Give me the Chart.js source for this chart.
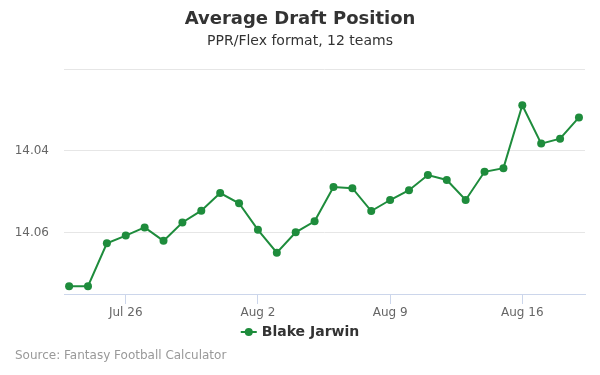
<!DOCTYPE html>
<html>
<head>
    <meta charset="utf-8">
    <script src="https://cdn.jsdelivr.net/npm/chart.js@4.4.1/dist/chart.umd.min.js"></script>
    <style>
        html, body { margin: 0; padding: 0; background: #fff; }
        #wrap { width: 600px; height: 375px; }
    </style>
</head>
<body>
    <div id="wrap"><canvas id="adp" width="600" height="375"></canvas></div>

    <script>
        const days = ['Jul 23', 'Jul 24', 'Jul 25', 'Jul 26', 'Jul 27', 'Jul 28', 'Jul 29', 'Jul 30', 'Jul 31',
            'Aug 1', 'Aug 2', 'Aug 3', 'Aug 4', 'Aug 5', 'Aug 6', 'Aug 7', 'Aug 8', 'Aug 9', 'Aug 10',
            'Aug 11', 'Aug 12', 'Aug 13', 'Aug 14', 'Aug 15', 'Aug 16', 'Aug 17', 'Aug 18', 'Aug 19'];
        const adp = [14.0731, 14.0731, 14.0626, 14.0607, 14.0587, 14.0620, 14.0575, 14.0546, 14.0503,
            14.0528, 14.0593, 14.0649, 14.0599, 14.0572, 14.0488, 14.0491, 14.0547, 14.0520, 14.0496,
            14.0459, 14.0471, 14.0520, 14.0451, 14.0442, 14.0288, 14.0382, 14.0370, 14.0318];
        const playerName = 'Blake Jarwin';

        const xTickPos = [3, 10, 17, 24];
        const xTickLabels = ['Jul 26', 'Aug 2', 'Aug 9', 'Aug 16'];
        const yTicks = [14.02, 14.04, 14.06];
        const yTickLabels = ['', '14.04', '14.06'];

        const green = '#1e8c3c';
        const FONT = '"DejaVu Sans", sans-serif';

        // title, subtitle, legend and credit drawn by hand, highcharts style
        const decorations = {
            id: 'decorations',
            afterDraw(chart) {
                const ctx = chart.ctx;
                const area = chart.chartArea;
                ctx.save();
                ctx.textBaseline = 'middle';
                ctx.textAlign = 'center';
                ctx.fillStyle = '#333333';
                ctx.font = 'bold 18px ' + FONT;
                ctx.fillText('Average Draft Position', 300, 19);
                ctx.font = '14px ' + FONT;
                ctx.fillText('PPR/Flex format, 12 teams', 300, 41);

                // legend
                ctx.font = 'bold 14px ' + FONT;
                const label = chart.data.datasets[0].label;
                const tw = ctx.measureText(label).width;
                const total = 16 + 5 + tw;
                const lx = 300 - total / 2;
                const ly = area.bottom + 38;
                ctx.strokeStyle = green;
                ctx.lineWidth = 2;
                ctx.beginPath();
                ctx.moveTo(lx, ly);
                ctx.lineTo(lx + 16, ly);
                ctx.stroke();
                ctx.fillStyle = green;
                ctx.beginPath();
                ctx.arc(lx + 8, ly, 4, 0, Math.PI * 2);
                ctx.fill();
                ctx.fillStyle = '#333333';
                ctx.textAlign = 'left';
                ctx.fillText(label, lx + 21, ly);

                // credit
                ctx.font = '12px ' + FONT;
                ctx.fillStyle = '#999999';
                ctx.fillText('Source: Fantasy Football Calculator', 15, 356);
                ctx.restore();
            }
        };

        new Chart(document.getElementById('adp'), {
            type: 'line',
            data: {
                datasets: [{
                    label: playerName,
                    data: days.map((d, i) => ({ x: i, y: adp[i] })),
                    borderColor: green,
                    backgroundColor: green,
                    borderWidth: 2,
                    pointRadius: 4,
                    pointHoverRadius: 4,
                    pointBorderWidth: 0,
                    tension: 0
                }]
            },
            options: {
                responsive: false,
                animation: false,
                layout: { padding: { top: 68, right: 15, bottom: 55, left: 0 } },
                scales: {
                    x: {
                        type: 'linear',
                        min: -0.27,
                        max: 27.32,
                        afterBuildTicks: (scale) => { scale.ticks = xTickPos.map(v => ({ value: v })); },
                        afterFit: (scale) => { scale.height = 26; },
                        grid: {
                            drawOnChartArea: false,
                            drawTicks: true,
                            tickLength: 10,
                            tickColor: '#ccd6eb'
                        },
                        border: { color: '#ccd6eb', width: 1 },
                        ticks: {
                            color: '#666666',
                            font: { family: FONT, size: 12 },
                            padding: 2,
                            maxRotation: 0,
                            autoSkip: false,
                            callback: (v) => xTickLabels[xTickPos.indexOf(v)]
                        }
                    },
                    y: {
                        reverse: true,
                        min: 14.0197,
                        max: 14.0750,
                        afterBuildTicks: (scale) => { scale.ticks = yTicks.map(v => ({ value: v })); },
                        afterFit: (scale) => { scale.width = 64; },
                        grid: { color: '#e6e6e6', drawTicks: false },
                        border: { display: false },
                        ticks: {
                            color: '#666666',
                            font: { family: FONT, size: 12 },
                            padding: 15,
                            callback: (v) => yTickLabels[yTicks.indexOf(v)]
                        }
                    }
                },
                plugins: {
                    legend: { display: false },
                    tooltip: { enabled: false }
                }
            },
            plugins: [decorations]
        });
    </script>
</body>
</html>
